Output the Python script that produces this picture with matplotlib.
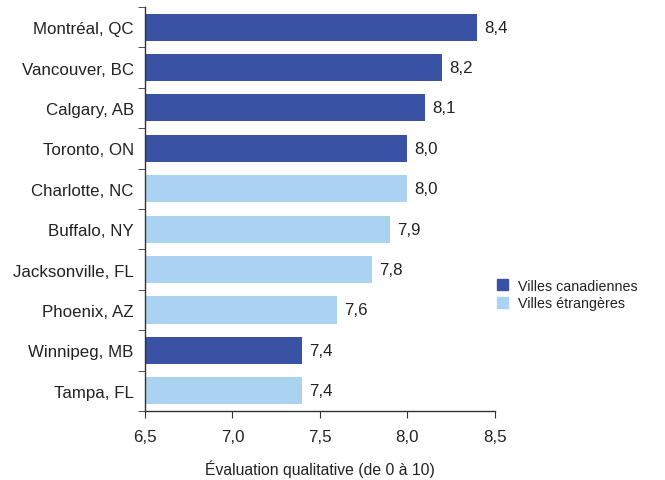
import matplotlib.pyplot as plt
from matplotlib.patches import Patch
from matplotlib.ticker import FixedLocator, FuncFormatter

villes = ['Montréal, QC', 'Vancouver, BC', 'Calgary, AB', 'Toronto, ON', 'Charlotte, NC',
          'Buffalo, NY', 'Jacksonville, FL', 'Phoenix, AZ', 'Winnipeg, MB', 'Tampa, FL']
notes = [8.4, 8.2, 8.1, 8.0, 8.0, 7.9, 7.8, 7.6, 7.4, 7.4]
canadienne = [True, True, True, True, False, False, False, False, True, False]

bleu_fonce = '#3a52a4'
bleu_clair = '#aad3f1'

plt.rcParams['font.family'] = ['Liberation Sans', 'DejaVu Sans']
plt.rcParams['font.size'] = 12.2
plt.rcParams['text.color'] = '#222222'
plt.rcParams['xtick.color'] = '#222222'
plt.rcParams['ytick.color'] = '#222222'
plt.rcParams['axes.labelcolor'] = '#222222'

fig = plt.figure(figsize=(6.65, 4.81), dpi=100)
fig.patch.set_facecolor('white')
ax = fig.add_axes([0.218, 0.1435, 0.526, 0.84])

y = list(range(len(villes)))
couleurs = [bleu_fonce if c else bleu_clair for c in canadienne]
ax.barh(y, [n - 6.5 for n in notes], left=6.5, height=0.67, color=couleurs)

for yi, n in zip(y, notes):
    ax.text(n + 0.04, yi, f'{n:.1f}'.replace('.', ','), va='center', ha='left')

ax.set_xlim(6.5, 8.5)
ax.set_ylim(len(villes) - 0.5, -0.5)
ax.set_xticks([6.5, 7.0, 7.5, 8.0, 8.5])
ax.xaxis.set_major_formatter(FuncFormatter(lambda v, p: f'{v:.1f}'.replace('.', ',')))
ax.set_yticks(y)
ax.set_yticklabels(villes)
ax.yaxis.set_minor_locator(FixedLocator([i - 0.5 for i in range(len(villes) + 1)]))
ax.tick_params(axis='y', which='major', length=0, pad=8)
ax.tick_params(axis='y', which='minor', length=5, direction='out', color='#333333')
ax.tick_params(axis='x', length=5, direction='out', pad=8, color='#333333')

for s in ['top', 'right']:
    ax.spines[s].set_visible(False)
for s in ['left', 'bottom']:
    ax.spines[s].set_color('#333333')
    ax.spines[s].set_linewidth(1.0)

ax.set_xlabel('Évaluation qualitative (de 0 à 10)', labelpad=11, fontsize=11.3)

handles = [Patch(color=bleu_fonce, label='Villes canadiennes'),
           Patch(color=bleu_clair, label='Villes étrangères')]
fig.legend(handles=handles, loc='upper left', bbox_to_anchor=(0.728, 0.445),
           frameon=False, handlelength=0.75, handleheight=0.8, handletextpad=0.75,
           labelspacing=0.25, fontsize=10.3)

fig.savefig('out.png', dpi=100)
